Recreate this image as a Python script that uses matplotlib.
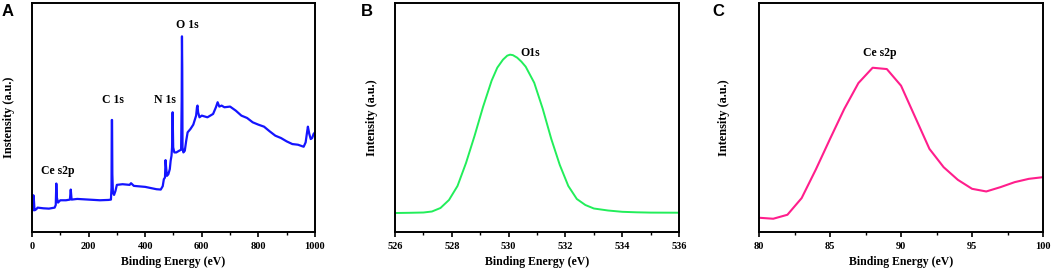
import matplotlib
matplotlib.use("Agg")
import matplotlib.pyplot as plt
import numpy as np

# XPS survey (panel A)
survey_ev = [0, 3, 5, 7, 9, 15, 20, 40, 60, 80, 84, 86, 88, 92, 100, 120, 134, 137, 140,
             160, 200, 240, 270, 279, 281, 282, 283, 284, 286, 290, 295, 300, 320, 345,
             350, 360, 400, 440, 455, 462, 466, 470, 472, 474, 477, 482, 487, 490, 493,
             495, 497, 499, 503, 510, 520, 527, 529, 530, 531, 532, 535, 540, 545, 550,
             560, 570, 580, 583, 585, 587, 592, 600, 620, 640, 650, 656, 662, 670, 680,
             700, 720, 740, 760, 780, 800, 820, 840, 860, 880, 900, 920, 940, 960, 967,
             972, 975, 980, 985, 990, 995, 1000]
survey_int = [61, 68, 110, 93, 65, 68, 73, 71, 70, 73, 81, 145, 103, 88, 95, 95, 97, 127, 97,
              99, 97, 95, 96, 97, 133, 335, 335, 173, 118, 111, 123, 141, 143, 141,
              146, 138, 135, 128, 127, 137, 158, 163, 215, 193, 168, 173, 188, 213, 228,
              253, 358, 253, 238, 238, 243, 246, 393, 585, 493, 253, 238, 243, 273, 298,
              308, 321, 348, 373, 378, 358, 343, 348, 343, 353, 373, 388, 375, 378, 373,
              375, 363, 348, 341, 328, 321, 315, 301, 288, 281, 271, 263, 261, 255, 268,
              298, 315, 293, 278, 281, 293, 298]
survey_labels = ["Ce s2p", "C 1s", "N 1s", "O 1s"]
survey_label_ev = [92, 286, 470, 548]
survey_label_int = [181, 396, 396, 618]

# O1s high resolution (panel B)
o1s_ev = [526.0, 526.5, 527.0, 527.3, 527.6, 527.9, 528.2, 528.5, 528.8, 529.1, 529.4,
          529.6, 529.8, 529.95, 530.05, 530.15, 530.3, 530.45, 530.6, 530.9, 531.2, 531.5,
          531.8, 532.1, 532.4, 532.7, 533.0, 533.5, 534.0, 534.5, 535.0, 536.0]
o1s_int = [19, 19.2, 19.5, 20.5, 24, 32, 46, 69, 96, 125, 151,
           164, 172, 176, 177, 176.5, 174, 170, 165, 149, 123, 93,
           67, 46, 33, 27, 23.5, 21.5, 20.2, 19.7, 19.4, 19.3]

# Ce s2p high resolution (panel C)
ce_ev = [80, 81, 82, 83, 84, 85, 86, 87, 88, 89, 90, 91, 92, 93, 94, 95, 96, 97, 98, 99, 100]
ce_int = [43, 40, 52, 102, 188, 280, 370, 448, 494, 490, 440, 345, 250, 195, 157, 130,
          122, 135, 150, 160, 165]

serif = ["Liberation Serif", "DejaVu Serif"]
plt.rcParams["font.family"] = serif
plt.rcParams["font.weight"] = "bold"

fig = plt.figure(figsize=(10.52, 2.73), dpi=100)
bottom, height, width = 0.150, 0.8407, 0.270
ax_a = fig.add_axes([0.0304, bottom, 0.269, height])
ax_b = fig.add_axes([0.3755, bottom, width, height])
ax_c = fig.add_axes([0.7215, bottom, width, height])


def style(ax, xlim, ylim, major, minor, ylabel, ylab_x):
    ax.set_xlim(*xlim)
    ax.set_ylim(*ylim)
    ax.set_xticks(np.arange(xlim[0], xlim[1] + 1e-9, major))
    ax.set_xticks(np.arange(xlim[0], xlim[1] + 1e-9, minor), minor=True)
    ax.set_yticks([])
    ax.tick_params(axis="x", which="major", direction="out", length=3.5, width=1.2,
                   labelsize=7.5, pad=3.5)
    ax.tick_params(axis="x", which="minor", direction="out", length=2, width=1.0)
    for lab in ax.get_xticklabels():
        lab.set_fontweight("bold")
    for sp in ax.spines.values():
        sp.set_linewidth(1.4)
    ax.set_xlabel("Binding Energy (eV)", fontsize=8.5, fontweight="bold")
    ax.xaxis.set_label_coords(0.5, -0.105)
    ax.set_ylabel(ylabel, fontsize=8.8, fontweight="bold")
    ax.yaxis.set_label_coords(ylab_x, 0.5)


# A
ax_a.plot(survey_ev, survey_int, color="#1414ff", lw=1.6)
style(ax_a, (0, 1000), (0, 686), 200, 100, "Instensity (a.u.)", -0.06)
for t, x, y in zip(survey_labels, survey_label_ev, survey_label_int):
    ax_a.text(x, y, t, ha="center", va="center", fontsize=8.5, fontweight="bold")

# B
ax_b.plot(o1s_ev, o1s_int, color="#22ee5a", lw=1.4)
style(ax_b, (526, 536), (0, 229), 2, 1, "Intensity (a.u.)", -0.06)
ax_b.text(530.75, 179, "O1s", ha="center", va="center", fontsize=8.5, fontweight="bold")

# C
ax_c.plot(ce_ev, ce_int, color="#ff1e8c", lw=1.5)
style(ax_c, (80, 100), (0, 690), 5, 2.5, "Intensity (a.u.)", -0.102)
ax_c.text(88.5, 538, "Ce s2p", ha="center", va="center", fontsize=8.5, fontweight="bold")

for letter, px in zip(["A", "B", "C"], [8, 367, 718]):
    fig.text(px / 1052, 1 - 11 / 273, letter, ha="center", va="center",
             fontsize=12, fontweight="bold", family=["Liberation Sans", "DejaVu Sans"])

fig.savefig("out.png", dpi=100)
